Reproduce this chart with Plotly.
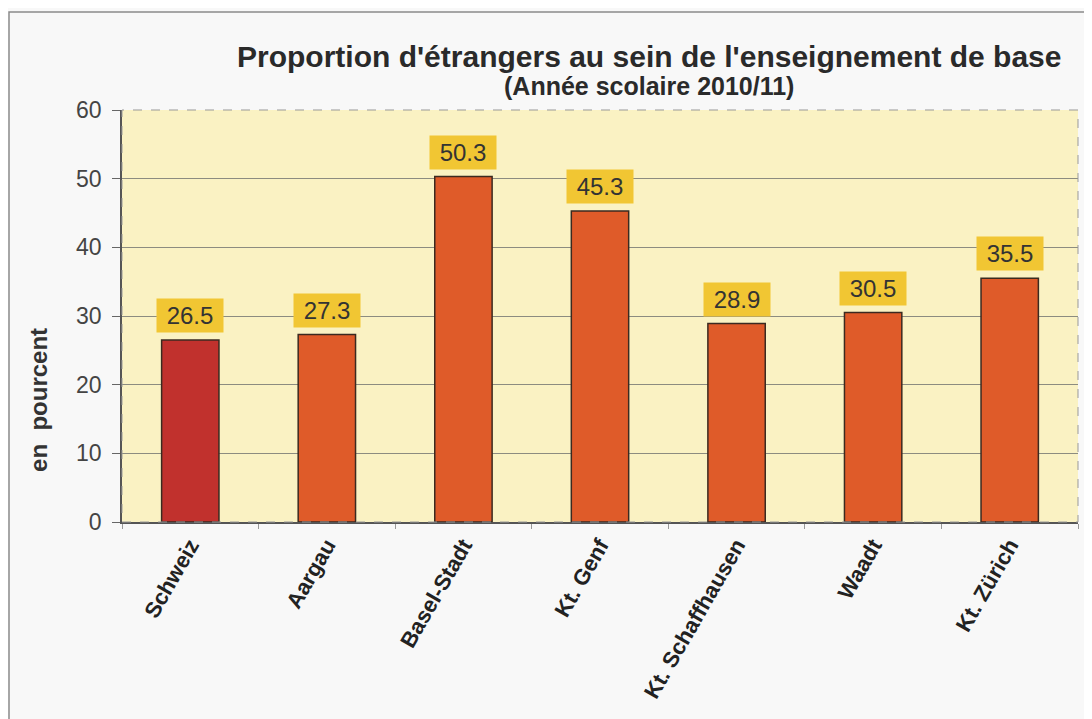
import plotly.graph_objects as go

# data
categories = ["Schweiz", "Aargau", "Basel-Stadt", "Kt. Genf", "Kt. Schaffhausen", "Waadt", "Kt. Zürich"]
values = [26.5, 27.3, 50.3, 45.3, 28.9, 30.5, 35.5]
bar_colors = ["#c1312d", "#df5b29", "#df5b29", "#df5b29", "#df5b29", "#df5b29", "#df5b29"]
y_ticks = [0, 10, 20, 30, 40, 50, 60]

FONT = "Liberation Sans, Arial, sans-serif"

fig = go.Figure()
fig.add_trace(go.Bar(
    x=categories,
    y=values,
    marker=dict(color=bar_colors, line=dict(color="#3b2a20", width=1.5)),
    width=0.42,
    hoverinfo="x+y",
))

# value labels in yellow boxes
for cat, val in zip(categories, values):
    fig.add_annotation(
        x=cat, y=val, text=f"&nbsp;{val:.1f}&nbsp;",
        showarrow=False, yanchor="bottom", yshift=7,
        bgcolor="#f1c633", borderpad=3,
        font=dict(family=FONT, size=24, color="#333333"),
    )

# title and subtitle
fig.add_annotation(
    xref="paper", yref="paper", x=0.551, y=1.131, xanchor="center", yanchor="middle",
    text="<b>Proportion d'étrangers au sein de l'enseignement de base</b>",
    showarrow=False, font=dict(family=FONT, size=30, color="#2a2a2a"),
)
fig.add_annotation(
    xref="paper", yref="paper", x=0.551, y=1.058, xanchor="center", yanchor="middle",
    text="<b>(Année scolaire 2010/11)</b>",
    showarrow=False, font=dict(family=FONT, size=25, color="#2a2a2a"),
)

# y axis title (sits lower than the axis centre in the original)
fig.add_annotation(
    xref="paper", yref="paper", x=-0.088, y=0.296, xanchor="center", yanchor="middle",
    text="<b>en  pourcent</b>", textangle=-90,
    showarrow=False, font=dict(family=FONT, size=24, color="#333333"),
)

# dashed plot frame and outer border
fig.add_shape(type="rect", xref="paper", yref="paper", x0=0, x1=1, y0=0, y1=1,
              line=dict(color="#999999", width=1, dash="dash"), layer="above")
fig.add_shape(type="rect", xref="paper", yref="paper", x0=-0.1182, x1=1.2, y0=-0.6, y1=1.238,
              line=dict(color="#8a8a8a", width=1.5))

fig.update_layout(
    width=1092, height=719,
    margin=dict(l=114, r=22, t=102, b=205),
    paper_bgcolor="#f8f8f8",
    plot_bgcolor="#faf2c3",
    showlegend=False,
    bargap=0.58,
    font=dict(family=FONT, color="#333333"),
)
fig.update_yaxes(
    range=[0, 60], tickvals=y_ticks,
    showgrid=True, gridcolor="#8c8c80", gridwidth=1,
    ticks="outside", ticklen=8, tickcolor="#666666",
    showline=True, linecolor="#555555", linewidth=1.5,
    tickfont=dict(size=23, color="#444444"),
    ticklabelstandoff=6,
    zeroline=False,
)
fig.update_xaxes(
    tickangle=-60,
    tickson="boundaries", ticks="outside", ticklen=5, tickcolor="#999999",
    showline=True, linecolor="#555555", linewidth=1.5,
    tickfont=dict(size=22, color="#222222"),
    tickprefix="<b>", ticksuffix="</b>",
)

fig.write_html("out.html")
